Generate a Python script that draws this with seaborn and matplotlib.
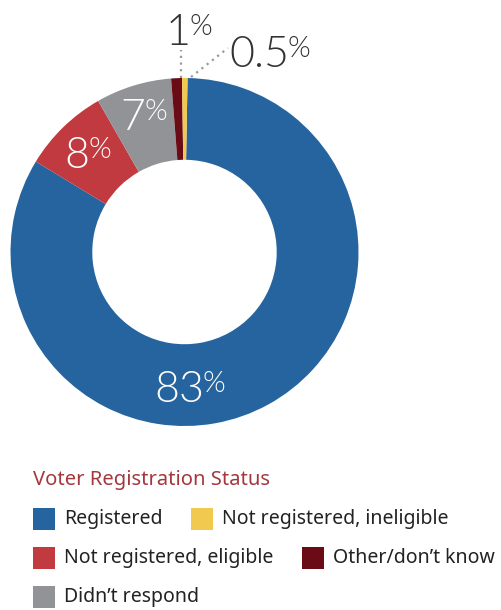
import matplotlib
matplotlib.use("Agg")
import matplotlib.pyplot as plt
from matplotlib.patches import Rectangle
import seaborn as sns

# Survey breakdown (percent of respondents)
categories = ["Registered", "Not registered, eligible", "Didn't respond",
              "Other/don\u2019t know", "Not registered, ineligible"]
values = [83, 8, 7, 1, 0.5]
colors = ["#25649e", "#c13a3f", "#919396", "#6a0b16", "#f2c94f"]

# Legend layout (display order, rows of the key)
legend_rows = [
    [("Registered", 0), ("Not registered, ineligible", 4)],
    [("Not registered, eligible", 1), ("Other/don\u2019t know", 3)],
    [("Didn\u2019t respond", 2)],
]
legend_title = "Voter Registration Status"

sns.set_theme(style="white")
plt.rcParams["font.family"] = ["Noto Sans", "DejaVu Sans"]

W, H = 501, 610
fig = plt.figure(figsize=(W / 100, H / 100), dpi=100)
ax = fig.add_axes([0, 0, 1, 1])

# donut geometry in pixels
cx, cy, R = 184.5, 252.0, 174.0
wedges, _ = ax.pie(values, colors=colors, startangle=89, counterclock=False,
                   radius=1.0, wedgeprops=dict(width=0.47, linewidth=0))
ax.set_xlim(-cx / R, (W - cx) / R)
ax.set_ylim(-(H - cy) / R, cy / R)
ax.set_aspect("auto")
ax.axis("off")

def px(x, y):
    """pixel position -> data coordinates of the donut axes"""
    return (x - cx) / R, (cy - y) / R

# value labels: (digit centre x, baseline y) in pixels, colour
label_pos = [(179, 402), (77, 168), (133, 130), (178, 45), (259, 67)]
label_col = ["white", "white", "white", "#333333", "#333333"]
num_font = dict(family=["Lato", "DejaVu Sans"], fontweight=300)
num_size, pct_size = 31, 21

def fmt(v):
    return f"{v:g}"

digit_texts = []
for v, (lx, ly), c in zip(values, label_pos, label_col):
    x, y = px(lx, ly)
    t = ax.text(x, y, fmt(v), ha="center", va="baseline", color=c,
                fontsize=num_size, **num_font)
    digit_texts.append(t)

# small "%" set top-aligned just after each number
fig.canvas.draw()
renderer = fig.canvas.get_renderer()
cap = 0.7165  # lining-figure height as a fraction of the em
raise_px = cap * (num_size - pct_size) * 100 / 72
for t, (lx, ly), c in zip(digit_texts, label_pos, label_col):
    bb = t.get_window_extent(renderer)
    base = H - ly
    fig.text((bb.x1 - 1.0) / W, (base + raise_px) / H, "%", ha="left",
             va="baseline", color=c, fontsize=pct_size, **num_font)

# dotted leaders for the two thin slices
leaders = [((181, 78), (181, 50)), ((191, 77), (228, 48))]
for (x0, y0), (x1, y1) in leaders:
    a, b = px(x0, y0)
    c2, d = px(x1, y1)
    ax.plot([a, c2], [b, d], linestyle=(0, (1, 2)), color="#9a9a9a", lw=1.6)

# key
fig.text(33 / W, 1 - 480 / H, legend_title, color="#a3383e", fontsize=14.5,
         ha="left", va="center")
row_y = [519, 558, 597]
col_x = [[33, 191], [33, 302], [33]]
for r, row in enumerate(legend_rows):
    for cidx, (name, idx) in enumerate(row):
        x0 = col_x[r][cidx]
        y0 = row_y[r]
        fig.patches.append(Rectangle((x0 / W, 1 - (y0 + 11) / H), 22 / W, 22 / H,
                                     transform=fig.transFigure, facecolor=colors[idx],
                                     edgecolor="none"))
        fig.text((x0 + 31) / W, 1 - y0 / H, name, color="#222222", fontsize=14,
                 ha="left", va="center")

fig.savefig("out.png", dpi=100)
